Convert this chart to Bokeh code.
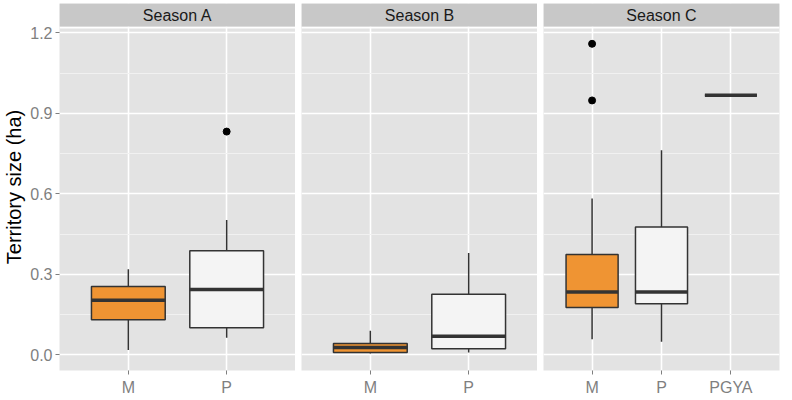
from bokeh.plotting import figure
from bokeh.models import (ColumnDataSource, FactorRange, Range1d, FixedTicker,
                          PrintfTickFormatter, Label, BoxAnnotation)
from bokeh.layouts import row
from bokeh.embed import file_html
from bokeh.resources import INLINE

# ---- data ----
seasons = ["Season A", "Season B", "Season C"]
season_groups = {"Season A": ["M", "P"], "Season B": ["M", "P"], "Season C": ["M", "P", "PGYA"]}

box_season = ["Season A", "Season A", "Season B", "Season B", "Season C", "Season C", "Season C"]
box_group = ["M", "P", "M", "P", "M", "P", "PGYA"]
lower = [0.018, 0.064, 0.005, 0.009, 0.058, 0.049, 0.967]
q1 = [0.131, 0.101, 0.009, 0.023, 0.177, 0.191, 0.967]
median = [0.204, 0.244, 0.028, 0.070, 0.234, 0.234, 0.967]
q3 = [0.255, 0.388, 0.043, 0.226, 0.374, 0.477, 0.967]
upper = [0.319, 0.503, 0.090, 0.380, 0.583, 0.762, 0.967]

out_season = ["Season A", "Season C", "Season C"]
out_group = ["P", "M", "M"]
out_value = [0.832, 0.948, 1.159]

y_ticks = [0.0, 0.3, 0.6, 0.9, 1.2]
y_minor = [0.15, 0.45, 0.75, 1.05]
y_lo, y_hi = -0.058, 1.216

# ---- styling ----
FONT = "Liberation Sans"
PANEL_BG = "#E3E3E3"
STRIP_BG = "#C8C8C8"
ORANGE = "#EF9433"
LIGHT = "#F4F4F4"
EDGE = "#333333"
TICK_COL = "#7F7F7F"

FRAME_W = 236
PANEL_H = 342
STRIP_H = 23
GAP_V = 2
LEFT = 52
GAP = 6

px = (y_hi - y_lo) / PANEL_H          # data units per pixel
gap_top = y_hi + GAP_V * px
y_end = gap_top + STRIP_H * px

figs = []
for i, s in enumerate(seasons):
    cats = season_groups[s]
    idx = [k for k, ss in enumerate(box_season) if ss == s]
    src = ColumnDataSource(dict(
        group=[box_group[k] for k in idx],
        lower=[lower[k] for k in idx],
        q1=[q1[k] for k in idx],
        median=[median[k] for k in idx],
        q3=[q3[k] for k in idx],
        upper=[upper[k] for k in idx],
        fill=[ORANGE if box_group[k] == "M" else LIGHT for k in idx],
    ))
    oidx = [k for k, ss in enumerate(out_season) if ss == s]
    osrc = ColumnDataSource(dict(group=[out_group[k] for k in oidx],
                                 value=[out_value[k] for k in oidx]))

    ml = LEFT if i == 0 else GAP
    mr = 2 if i == 2 else 0

    p = figure(frame_width=FRAME_W, frame_height=PANEL_H + GAP_V + STRIP_H,
               x_range=FactorRange(factors=cats, range_padding=0.2, range_padding_units="absolute"),
               y_range=Range1d(y_lo, y_end), toolbar_location=None, output_backend="svg",
               min_border_left=ml, min_border_right=mr, min_border_top=3, min_border_bottom=0)
    p.background_fill_color = PANEL_BG
    p.outline_line_color = None

    p.yaxis.ticker = FixedTicker(ticks=y_ticks, minor_ticks=y_minor)
    p.yaxis.formatter = PrintfTickFormatter(format="%.1f")
    p.ygrid.grid_line_color = "white"
    p.ygrid.grid_line_width = 1.6
    p.ygrid.minor_grid_line_color = "#F1F1F1"
    p.ygrid.minor_grid_line_width = 1
    p.xgrid.grid_line_color = "white"
    p.xgrid.grid_line_width = 1.6

    for ax in (p.xaxis[0], p.yaxis[0]):
        ax.axis_line_color = None
        ax.major_tick_in = 0
        ax.major_tick_out = 4
        ax.minor_tick_in = 0
        ax.minor_tick_out = 0
        ax.major_tick_line_color = TICK_COL
        ax.major_label_text_font = FONT
        ax.major_label_text_font_size = "16px"
        ax.major_label_text_color = TICK_COL
    p.xaxis.major_label_standoff = 4
    p.yaxis.major_label_standoff = 3

    if i == 0:
        p.yaxis.axis_label = "Territory size (ha)"
        p.yaxis.axis_label_text_font = FONT
        p.yaxis.axis_label_text_font_size = "20px"
        p.yaxis.axis_label_text_font_style = "normal"
        p.yaxis.axis_label_text_color = "black"
        p.yaxis.axis_label_standoff = 2
    else:
        p.yaxis.visible = False

    # whiskers
    p.segment(x0="group", y0="q3", x1="group", y1="upper", source=src, line_color=EDGE, line_width=1.5)
    p.segment(x0="group", y0="q1", x1="group", y1="lower", source=src, line_color=EDGE, line_width=1.5)
    # boxes
    p.vbar(x="group", top="q3", bottom="q1", width=0.75, source=src,
           fill_color="fill", line_color=EDGE, line_width=1.5)
    # medians
    p.rect(x="group", y="median", width=0.75, height=3.5, height_units="screen", source=src,
           fill_color=EDGE, line_color=None)
    # outliers
    p.scatter(x="group", y="value", source=osrc, size=7, color="black")

    # facet strip
    p.add_layout(BoxAnnotation(bottom=y_hi, top=gap_top, fill_color="white", fill_alpha=1,
                               line_color=None))
    p.add_layout(BoxAnnotation(bottom=gap_top, top=y_end, fill_color=STRIP_BG, fill_alpha=1,
                               line_color=None))
    p.add_layout(Label(x=len(cats) / 2, y=(gap_top + y_end) / 2, x_units="data",
                       text=s, text_align="center", text_baseline="middle",
                       text_font=FONT, text_font_size="16px", text_color="#1A1A1A"))

    figs.append(p)

layout = row(*figs, spacing=0)

open("out.html", "w").write(file_html(layout, INLINE))
